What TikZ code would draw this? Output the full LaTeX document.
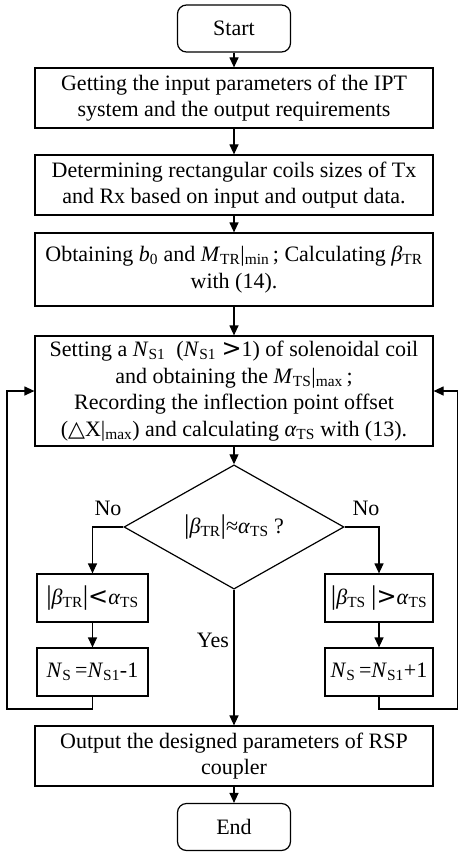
\documentclass[tikz,border=0pt]{standalone}
\usepackage{fontspec}
\setmainfont{Liberation Serif}
\newfontfamily\symfont{DejaVu Sans}
\newcommand\tallbar{{\fontsize{27}{27}\selectfont|}}
\newcommand\bigrel[1]{{\symfont\fontsize{24}{24}\selectfont#1}}
\usetikzlibrary{arrows.meta,shapes.geometric}

\begin{document}
\begin{tikzpicture}[x=1pt,y=-1pt,line width=1.2pt,
    every node/.style={font=\fontsize{22}{26.5}\selectfont},
    stepbox/.style={draw,rectangle,align=center,inner sep=0pt},
    term/.style={draw,rounded corners=9pt,minimum width=113pt,minimum height=47pt},
    arr/.style={-{Triangle[length=10pt,width=9pt]}}]
    \useasboundingbox (0,0) rectangle (458,853);

    \node[term] (start) at (234,28.5) {Start};
    \node[stepbox,minimum width=398pt,minimum height=60pt] (getinput) at (234,98)
      {Getting the input parameters of the IPT\\system and the output requirements};
    \node[stepbox,minimum width=398pt,minimum height=60pt] (coilsize) at (234,185)
      {Determining rectangular coils sizes of Tx\\and Rx based on input and output data.};
    \node[stepbox,minimum width=398pt,minimum height=73pt] (obtainb) at (234,269.5)
      {Obtaining \textit{b}\textsubscript{0} and \textit{M}\textsubscript{TR}|\textsubscript{min}\,; Calculating \textit{β}\textsubscript{TR}\\with (14).};
    \node[stepbox,minimum width=398pt,minimum height=110pt] (setns) at (234,391)
      {Setting a \textit{N}\textsubscript{S1}\ \ (\textit{N}\textsubscript{S1} \bigrel{>}1) of solenoidal coil\\and obtaining the \textit{M}\textsubscript{TS}|\textsubscript{max}\,;\\Recording the inflection point offset\\({\symfont △}X|\textsubscript{max}) and calculating \textit{α}\textsubscript{TS} with (13).};
    \node[draw,diamond,minimum width=220pt,minimum height=94pt,inner sep=0pt] (check) at (234,527)
      {\tallbar\textit{β}\textsubscript{TR}\tallbar≈\textit{α}\textsubscript{TS} ?};
    \node[stepbox,minimum width=111pt,minimum height=48pt] (lessbox) at (92.5,598)
      {\tallbar\textit{β}\textsubscript{TR}\tallbar\bigrel{<}\textit{α}\textsubscript{TS}};
    \node[stepbox,minimum width=111pt,minimum height=48pt] (lessns) at (92.5,672)
      {\textit{N}\textsubscript{S}\,=\textit{N}\textsubscript{S1}-1};
    \node[stepbox,minimum width=108pt,minimum height=48pt] (morebox) at (379,598)
      {\tallbar\textit{β}\textsubscript{TS} \tallbar\bigrel{>}\textit{α}\textsubscript{TS}};
    \node[stepbox,minimum width=108pt,minimum height=48pt] (morens) at (379,672)
      {\textit{N}\textsubscript{S}\,=\textit{N}\textsubscript{S1}+1};
    \node[stepbox,minimum width=398pt,minimum height=60pt] (output) at (234,756)
      {Output the designed parameters of RSP\\coupler};
    \node[term] (stop) at (234,827) {End};

    \coordinate (leftend) at (7,709);
    \coordinate (rightend) at (457.5,709);

    % straight chain
    \foreach \a/\b in {start/getinput, getinput/coilsize, coilsize/obtainb,
      obtainb/setns, setns/check, lessbox/lessns, morebox/morens, output/stop}
    \draw[arr] (\a) -- (\b);

    \draw[arr] (check.west) -| (lessbox.north);
    \draw[arr] (check.east) -| (morebox.north);
    \draw[arr] (check.south) -- (output.north);
    \node at (108,508) {No};
    \node at (366,508) {No};
    \node at (213,640) {Yes};

    % loops back
    \draw[arr] (lessns.south) |- (leftend) |- (setns.west);
    \draw[arr] (morens.south) |- (rightend) |- (setns.east);
  \end{tikzpicture}
\end{document}
